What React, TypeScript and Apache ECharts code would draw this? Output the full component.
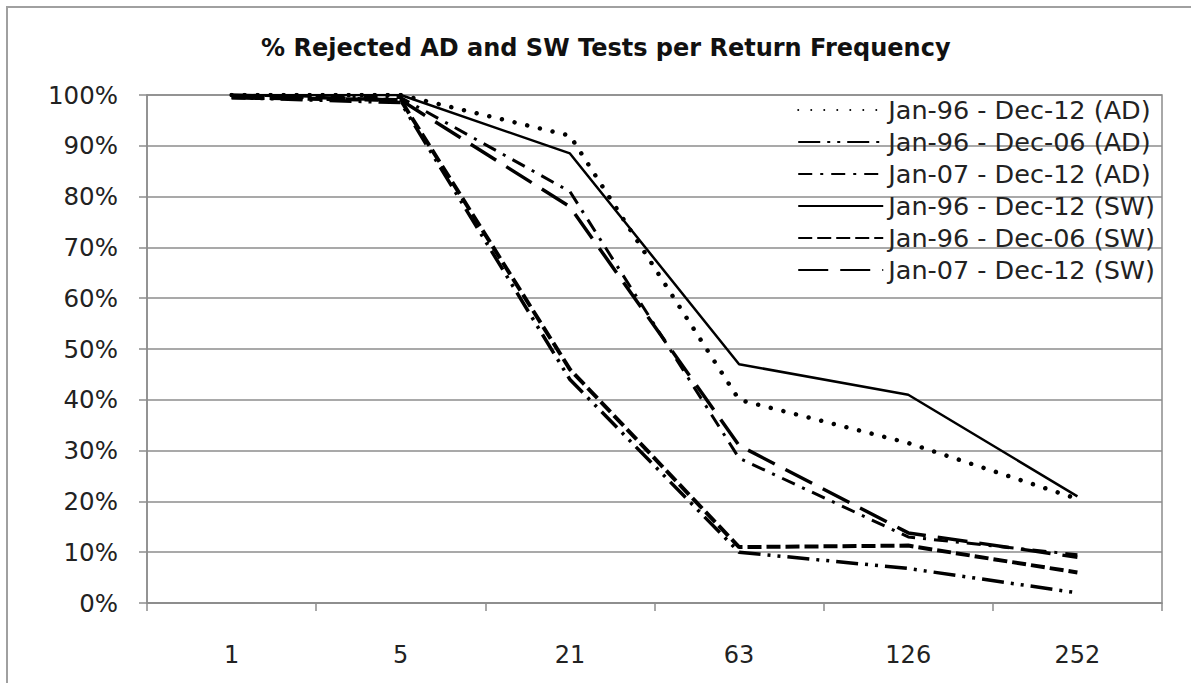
import React, { useEffect, useRef } from "react";
import * as echarts from "echarts";

const categories = ["1", "5", "21", "63", "126", "252"];
const yTicks = { min: 0, max: 100, interval: 10 };

const adFull = [100, 100, 92, 40, 31.5, 20.5];
const adEarly = [99.5, 98.5, 44, 10, 6.8, 2];
const adLate = [100, 99.5, 81, 28.5, 13, 9.5];
const swFull = [100, 100, 88.5, 47, 41, 21];
const swEarly = [99.5, 99, 46, 11, 11.3, 6];
const swLate = [100, 99, 78, 31, 13.8, 9];

const seriesNames = [
  "Jan-96 - Dec-12 (AD)",
  "Jan-96 - Dec-06 (AD)",
  "Jan-07 - Dec-12 (AD)",
  "Jan-96 - Dec-12 (SW)",
  "Jan-96 - Dec-06 (SW)",
  "Jan-07 - Dec-12 (SW)",
];

const FONT = "DejaVu Sans";

export default function App() {
  const ref = useRef<HTMLDivElement>(null);
  useEffect(() => {
    if (!ref.current) return;
    const chart = echarts.init(ref.current, null, { renderer: "svg" });
    const mk = (name: string, data: number[], lineStyle: any) => ({
      name,
      type: "line",
      data,
      symbol: "none",
      lineStyle: { color: "#000", ...lineStyle },
      itemStyle: { color: "#000" },
    });
    chart.setOption({
      animation: false,
      backgroundColor: "#fff",
      title: {
        text: "% Rejected AD and SW Tests per Return Frequency",
        left: 256,
        top: 31,
        textStyle: { fontFamily: FONT, fontSize: 24, fontWeight: "bold", color: "#111" },
      },
      graphic: [
        {
          type: "rect",
          shape: { x: 7, y: 7, width: 1300, height: 800 },
          style: { fill: "none", stroke: "#a0a0a0", lineWidth: 2 },
          silent: true,
        },
      ],
      legend: {
        orient: "vertical",
        right: 31,
        top: 92,
        itemWidth: 85,
        itemHeight: 14,
        itemGap: 6,
        itemStyle: { opacity: 0 },
        textStyle: { fontFamily: FONT, fontSize: 25.5, color: "#222" },
        data: seriesNames,
      },
      grid: {
        left: 147,
        right: 29,
        top: 95,
        bottom: 80,
        show: true,
        borderColor: "#8c8c8c",
        borderWidth: 1.5,
        backgroundColor: "transparent",
      },
      xAxis: {
        type: "category",
        data: categories,
        boundaryGap: true,
        axisLine: { lineStyle: { color: "#8c8c8c", width: 1.5 } },
        axisTick: { show: true, length: 8, lineStyle: { color: "#8c8c8c", width: 1.5 } },
        axisLabel: { fontFamily: FONT, fontSize: 24, color: "#222", margin: 40 },
        splitLine: { show: false },
      },
      yAxis: {
        type: "value",
        min: yTicks.min,
        max: yTicks.max,
        interval: yTicks.interval,
        axisLine: { show: true, lineStyle: { color: "#8c8c8c", width: 1.5 } },
        axisTick: { show: true, length: 8, lineStyle: { color: "#8c8c8c", width: 1.5 } },
        axisLabel: { fontFamily: FONT, fontSize: 24.5, color: "#222", margin: 29, formatter: "{value}%" },
        splitLine: { show: true, lineStyle: { color: "#8c8c8c", width: 1.5 } },
      },
      series: [
        mk(seriesNames[0], adFull, { width: 4.5, type: [0.01, 13], cap: "round" }),
        mk(seriesNames[1], adEarly, { width: 3.5, type: [22, 7, 3, 7, 3, 7] }),
        mk(seriesNames[2], adLate, { width: 3, type: [14, 8, 3, 8] }),
        mk(seriesNames[3], swFull, { width: 2.5, type: "solid" }),
        mk(seriesNames[4], swEarly, { width: 4, type: [14, 5] }),
        mk(seriesNames[5], swLate, { width: 3.5, type: [30, 12] }),
      ],
    });
    return () => chart.dispose();
  }, []);
  return (
    <div
      ref={ref}
      style={{ position: "fixed", left: 0, top: 0, width: 1191, height: 683, background: "#fff" }}
    />
  );
}
